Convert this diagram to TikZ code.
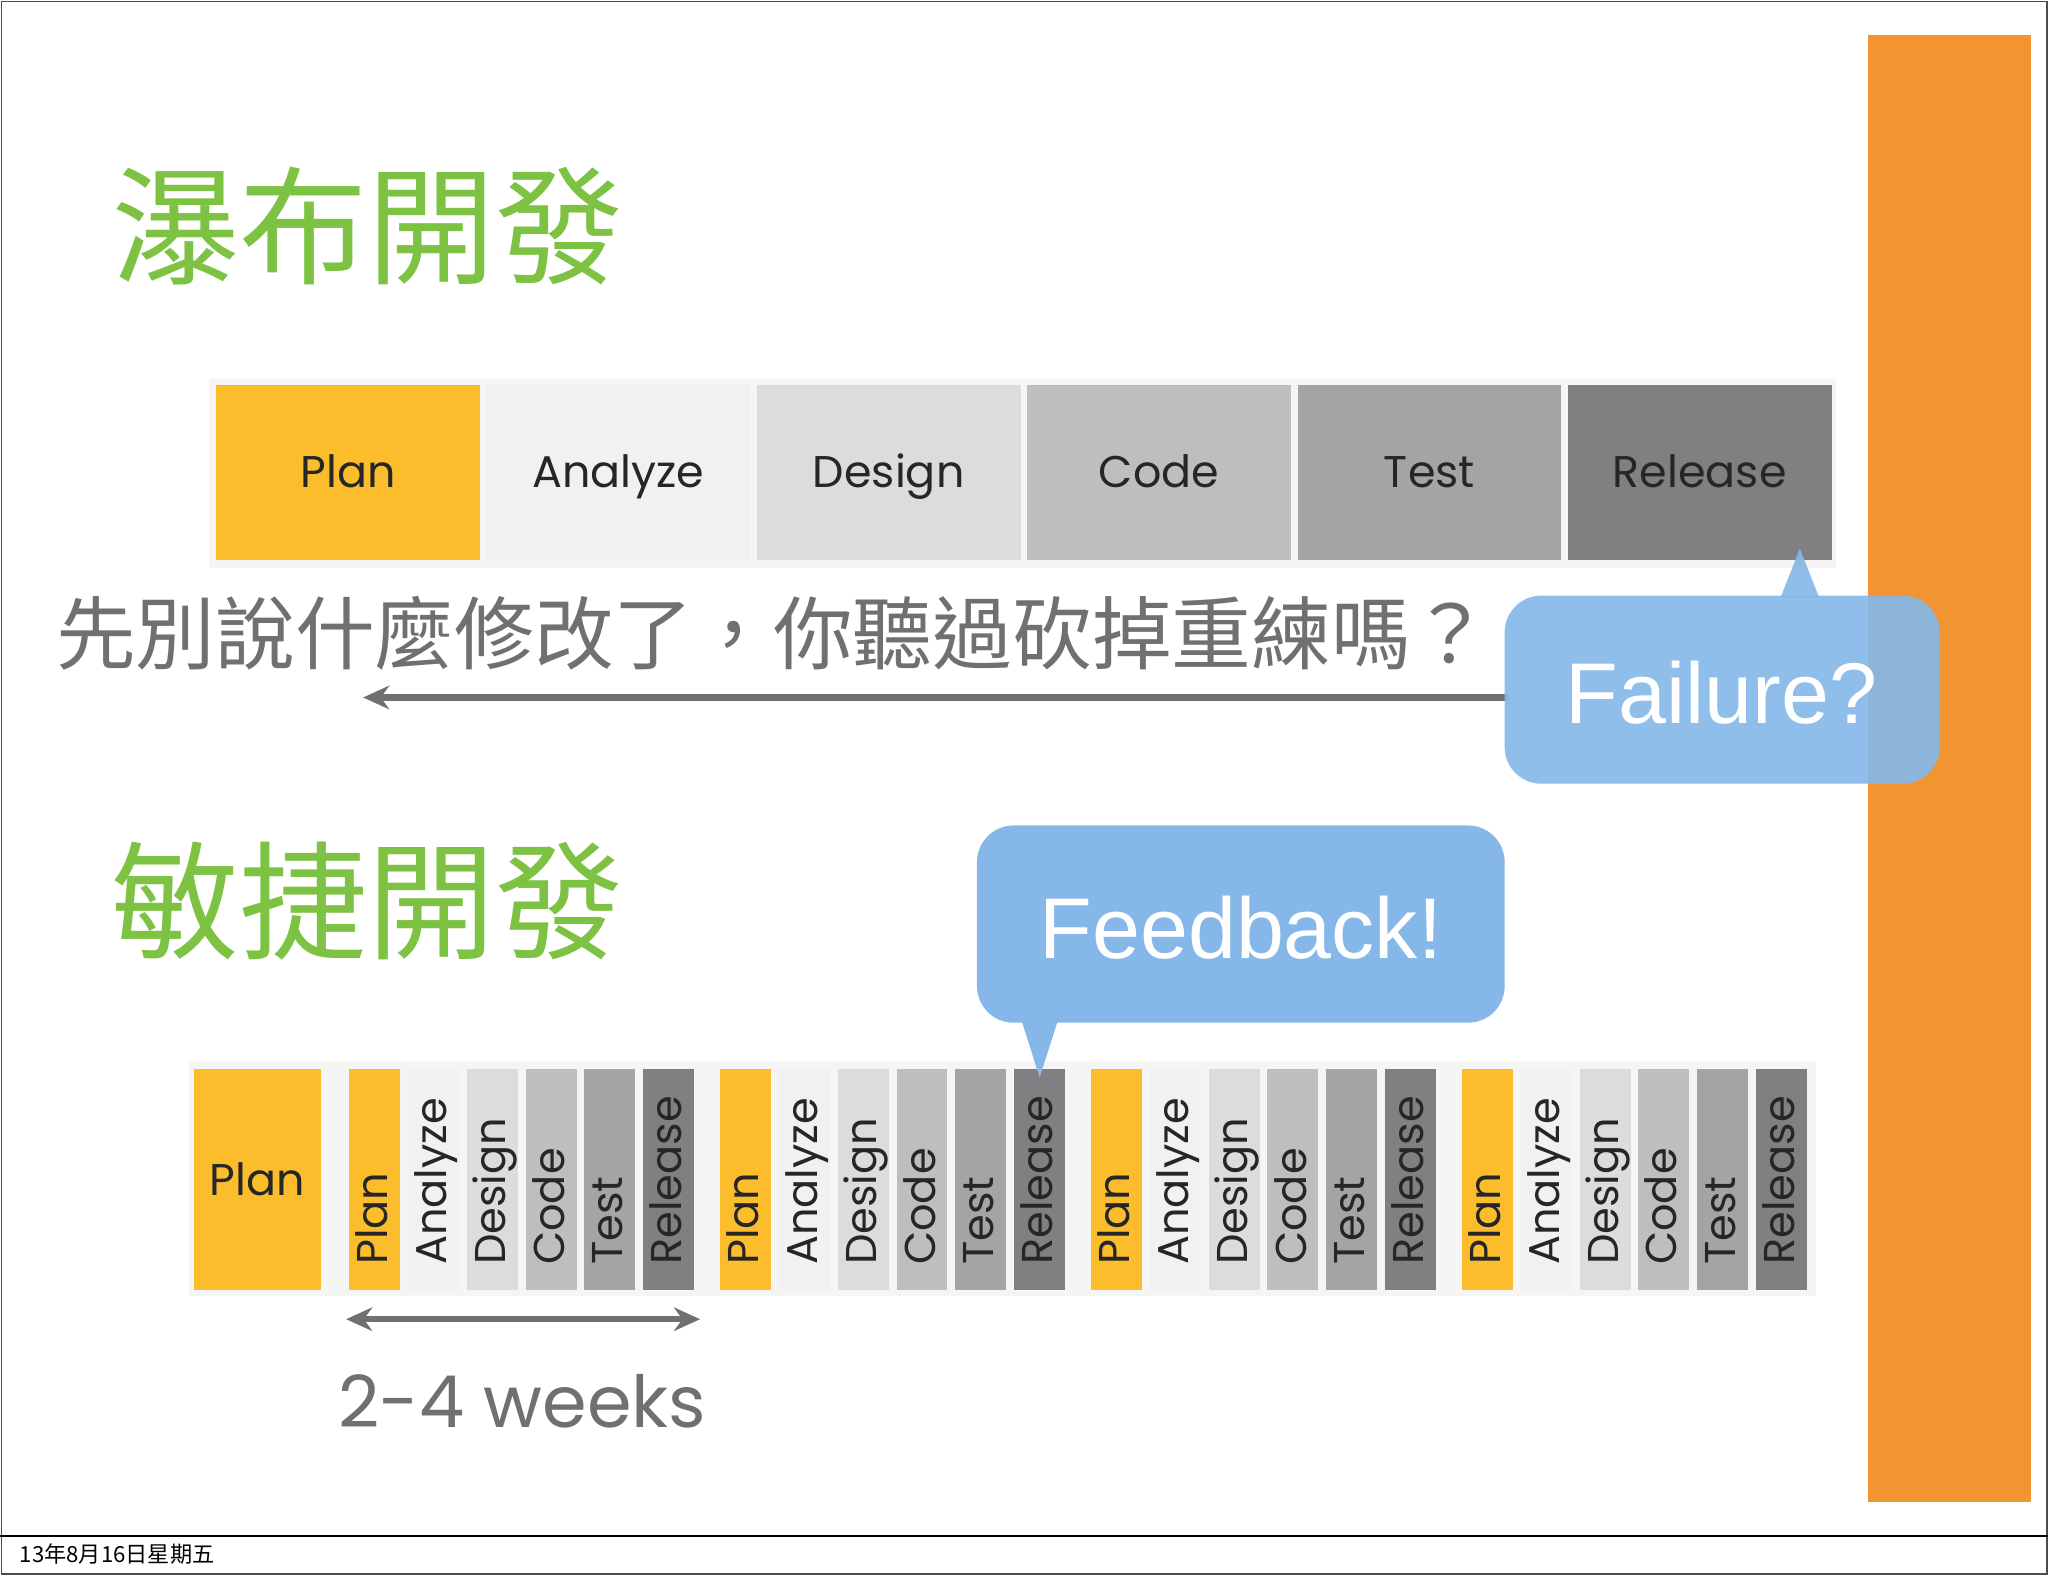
\documentclass[tikz,border=0pt]{standalone}
\usepackage{fontspec}
\usetikzlibrary{calc,arrows.meta}
\setmainfont{Liberation Sans}
\newfontfamily\cjk{Noto Sans CJK TC}
\newfontfamily\gothic{Poppins}
\definecolor{orng}{HTML}{F39433}
\definecolor{grn}{HTML}{7DC242}
\definecolor{cplan}{HTML}{FBBD2B}
\definecolor{cana}{HTML}{F1F1F2}
\definecolor{cdes}{HTML}{DCDCDE}
\definecolor{ccode}{HTML}{BEBDC0}
\definecolor{ctest}{HTML}{A4A3A6}
\definecolor{crel}{HTML}{808083}
\definecolor{blu}{HTML}{85B8E8}
\definecolor{txtg}{HTML}{707070}
\tikzset{
 fs/.style={font=\fontsize{#1}{#1}\selectfont},
 cj/.style={font=\cjk\fontsize{#1}{#1}\selectfont},
 gt/.style={font=\gothic\fontsize{#1}{#1}\selectfont},
 wbox/.style={minimum width=101pt,minimum height=67pt,inner sep=0pt,anchor=north west,gt=17,text height=15pt,text depth=3pt,text=black!85},
 abar/.style={minimum width=19.5pt,minimum height=84.5pt,inner sep=0pt,anchor=north west},
 vlab/.style={rotate=90,gt=16.5,inner sep=0pt,text=black!85},
 callout/.style={fill=blu,rounded corners=14pt}
}
\begin{document}
\begin{tikzpicture}[x=0.5pt,y=-0.5pt]
\useasboundingbox (0,0) rectangle (1568,1206);
\draw[black!70,line width=0.6pt] (1,1) rectangle (1567,1205);
\draw[black,line width=0.8pt] (0,1176) -- (1568,1176);
\node[anchor=west,cj=8.5] (foot) at (8,1190) {13年8月16日星期五};
\fill[orng] (1430,27) rectangle (1555,1150);
% titles
\node[anchor=west,cj=49,text=grn] (t1) at (78,173) {瀑布開發};
\node[anchor=west,cj=49,text=grn] (t2) at (78,690) {敏捷開發};
% waterfall
\fill[black!4] (160,290) rectangle (1406,435);
\node[wbox,fill=cplan] (wp) at (165,294) {Plan};
\node[wbox,fill=cana] (wa) at (372,294) {Analyze};
\node[wbox,fill=cdes] (wd) at (579,294) {Design};
\node[wbox,fill=ccode] (wc) at (786,294) {Code};
\node[wbox,fill=ctest] (wt) at (993,294) {Test};
\node[wbox,fill=crel] (wr) at (1200,294) {Release};
\node[anchor=west,cj=30.5,text=txtg] (sent) at (36,485) {先別說什麼修改了，你聽過砍掉重練嗎？};
% failure callout
\coordinate (fs) at (1155,534);
\coordinate (fe) at (278,534);
\draw[txtg,line width=2.5pt,-{Stealth[length=10pt,width=9pt]}] (fs) -- (fe);
\begin{scope}[opacity=0.92]
\fill[callout] (1152,456) rectangle (1485,600);
\fill[blu] (1363,458) -- (1378,420) -- (1393,458) -- cycle;
\end{scope}
\node[text=white,fs=33] (fail) at (1318,530) {Failure?};
% agile
\fill[black!4] (145,812) rectangle (1390,992);
\node[minimum width=48.5pt,minimum height=84.5pt,inner sep=0pt,anchor=north west,fill=cplan,gt=17,text=black!85] (ap) at (148,818) {Plan};
\foreach \g in {0,1,2,3}{
 \pgfmathsetmacro{\gx}{267+284*\g}
 \foreach \c/\l [count=\i from 0] in {cplan/Plan,cana/Analyze,cdes/Design,ccode/Code,ctest/Test,crel/Release}{
  \node[abar,fill=\c] (b\g\i) at (\gx+45*\i,818) {};
  \node[vlab,anchor=base west] (l\g\i) at ($(b\g\i.south)+(10,-19)$) {\l};
 }
}
% feedback
\fill[callout] (748,632) rectangle (1152,783);
\fill[blu] (782,781) -- (796,825) -- (810,781) -- cycle;
\node[text=white,fs=33] (fb) at (950,710) {Feedback!};
\coordinate (w1) at (265,1010);
\coordinate (w2) at (536,1010);
\draw[txtg,line width=2.5pt,{Stealth[length=10pt,width=9pt]}-{Stealth[length=10pt,width=9pt]}] (w1) -- (w2);
\node[gt=27.5,text=txtg] (wk) at (400,1073) {2-4 weeks};
\end{tikzpicture}
\end{document}
